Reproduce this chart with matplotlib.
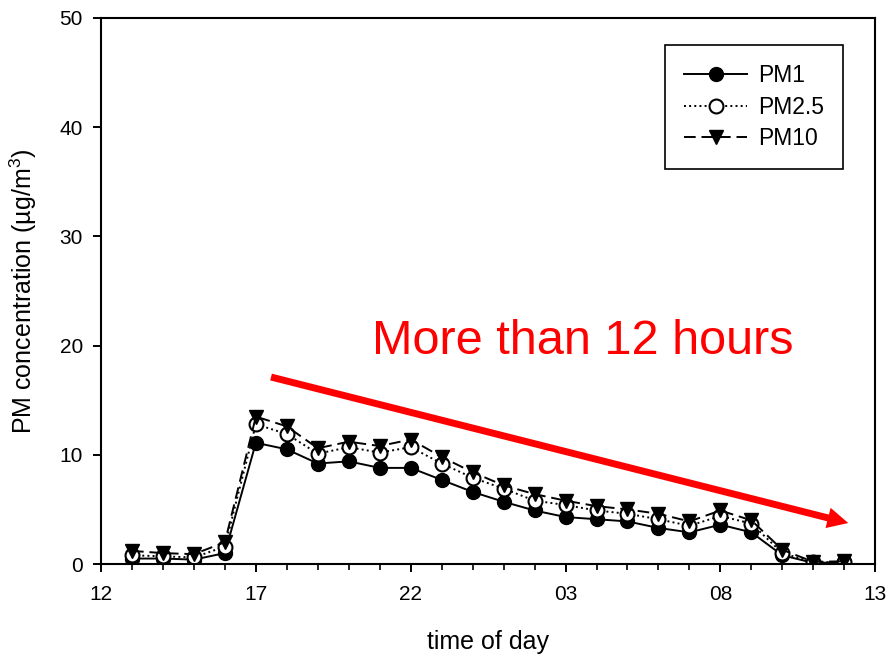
import numpy as np
import matplotlib.pyplot as plt
from matplotlib.ticker import MultipleLocator, FixedLocator

plt.rcParams['font.family'] = ['Liberation Sans', 'DejaVu Sans']
plt.rcParams['mathtext.fontset'] = 'custom'
plt.rcParams['mathtext.rm'] = 'Liberation Sans'

# hours since midnight of day 1 (25 = 01 next day)
hours = list(range(13, 37))
pm1 = [0.5, 0.5, 0.4, 1.0, 11.1, 10.5, 9.2, 9.4, 8.8, 8.8, 7.7, 6.6,
       5.7, 4.9, 4.3, 4.1, 3.9, 3.3, 2.9, 3.6, 2.9, 0.8, 0.1, 0.15]
pm25 = [0.8, 0.7, 0.6, 1.6, 12.8, 11.9, 10.1, 10.7, 10.2, 10.7, 9.2, 7.9,
        6.9, 5.8, 5.4, 4.9, 4.6, 4.1, 3.5, 4.4, 3.7, 1.0, 0.15, 0.2]
pm10 = [1.2, 1.0, 0.9, 2.0, 13.5, 12.6, 10.6, 11.2, 10.8, 11.4, 9.8, 8.4,
        7.2, 6.4, 5.8, 5.3, 5.0, 4.6, 3.9, 4.9, 4.0, 1.3, 0.2, 0.25]

major_ticks = [12, 17, 22, 27, 32, 37]
major_labels = ['12', '17', '22', '03', '08', '13']

fig = plt.figure(figsize=(8.94, 6.54), dpi=100)
ax = fig.add_axes([0.113, 0.1376, 0.866, 0.835])

ax.plot(hours, pm1, color='black', linestyle='-', linewidth=1.4,
        marker='o', markersize=10, markerfacecolor='black', label='PM1')
ax.plot(hours, pm25, color='black', linestyle=':', linewidth=1.4,
        marker='o', markersize=10, markerfacecolor='white',
        markeredgewidth=1.5, label='PM2.5')
ax.plot(hours, pm10, color='black', linestyle=(0, (6, 3)), linewidth=1.4,
        marker='v', markersize=10, markerfacecolor='black', label='PM10')

ax.set_xlim(12, 37)
ax.set_ylim(0, 50)
ax.xaxis.set_major_locator(FixedLocator(major_ticks))
ax.set_xticklabels(major_labels)
ax.xaxis.set_minor_locator(MultipleLocator(1))
ax.yaxis.set_major_locator(MultipleLocator(10))
ax.tick_params(axis='both', which='major', direction='out', length=6,
               width=1.4, labelsize=15, colors='black')
ax.tick_params(axis='x', which='minor', direction='out', length=4.5, width=1.2)
ax.tick_params(axis='x', which='major', pad=9)
ax.tick_params(axis='y', which='major', pad=7)
for s in ax.spines.values():
    s.set_linewidth(1.5)

ax.set_xlabel('time of day', fontsize=18, labelpad=19)
ax.set_ylabel('PM concentration (\u00b5g/m$^{3}$)', fontsize=18, labelpad=15)

leg = ax.legend(loc='upper right', bbox_to_anchor=(0.9587, 0.9505),
                borderaxespad=0, fontsize=16.5, handlelength=2.75,
                fancybox=False, edgecolor='black', framealpha=1,
                borderpad=0.85, labelspacing=0.36, handletextpad=0.45)
leg.get_frame().set_linewidth(1.2)

# red annotation
ax.text(27.55, 20.33, 'More than 12 hours', color='#ff0000', fontsize=35,
        ha='center', va='center')
ax.annotate('', xy=(36.13, 3.75), xytext=(17.49, 17.12),
            arrowprops=dict(arrowstyle='simple,head_length=1.5,head_width=1.5,tail_width=0.5',
                            mutation_scale=10, color='#ff0000', linewidth=0,
                            shrinkA=0, shrinkB=0))

fig.savefig('out.png', dpi=100)
